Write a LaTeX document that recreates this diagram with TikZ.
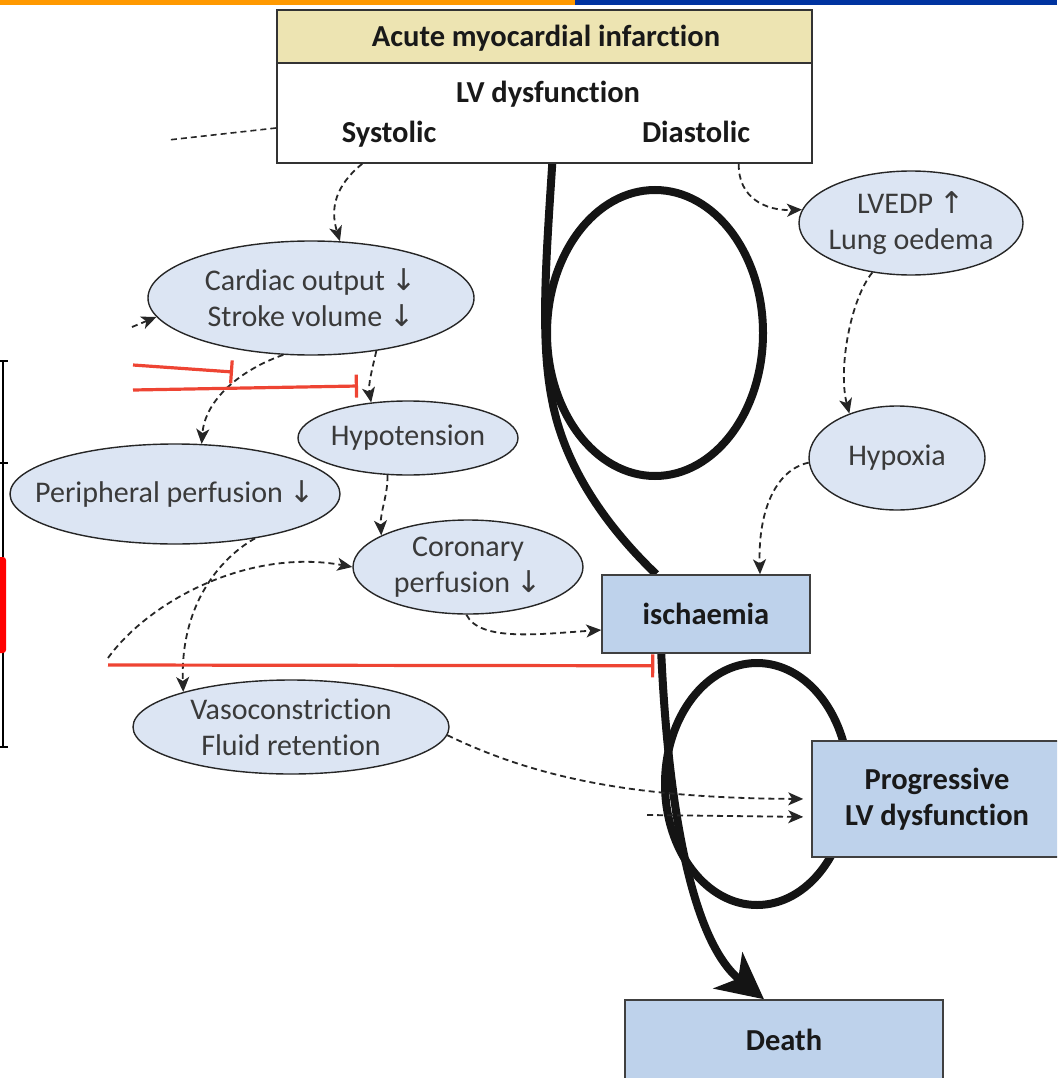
\documentclass[tikz,border=0pt]{standalone}
\usepackage{fontspec}
\setmainfont{Carlito}[Ligatures=NoCommon]
\newfontfamily\arrowglyph{DejaVu Sans}
\usetikzlibrary{shapes.geometric,arrows.meta,calc}
\pgfdeclarelayer{background}
\pgfsetlayers{background,main}

\definecolor{hdrfill}{HTML}{EDE4B2}
\definecolor{ovalfill}{HTML}{DCE5F3}
\definecolor{boxfill}{HTML}{BED2EB}
\definecolor{inhib}{HTML}{EE4433}
\definecolor{ovaltext}{HTML}{3A3A3A}
\definecolor{barorange}{HTML}{FF9900}
\definecolor{barblue}{HTML}{0033A0}

\newcommand{\arrdown}{{\arrowglyph ↓}}
\newcommand{\arrup}{{\arrowglyph ↑}}

\tikzset{
  oval/.style={ellipse, draw=black!85, line width=1.4pt, fill=ovalfill, inner sep=0pt},
  ovtext/.style={font=\fontsize{30}{36}\selectfont, text=ovaltext, align=center, inner sep=0pt},
  bluebox/.style={rectangle, draw=black!75, line width=1.5pt, fill=boxfill, inner sep=0pt,
    font=\bfseries\fontsize{30.5}{36}\selectfont, align=center, text=black!90},
  boldtxt/.style={font=\bfseries\fontsize{30.5}{36}\selectfont, text=black!90, inner sep=0pt, anchor=base},
  flow/.style={-{Stealth[length=15pt,width=13pt,inset=4pt]}, dash pattern=on 6pt off 4pt,
    line width=1.8pt, draw=black!85},
  plainflow/.style={dash pattern=on 6pt off 4pt, line width=1.6pt, draw=black!85},
  loopline/.style={line width=8pt, draw=black!92},
  inhibit/.style={-{Bar[width=23pt]}, draw=inhib, line width=3.2pt}
}

\begin{document}
\begin{tikzpicture}[x=1pt,y=-1pt]
\useasboundingbox (0,0) rectangle (1057,1078);
\clip (0,0) rectangle (1057,1078);

% title bar
\fill[barorange] (0,0) rectangle (575,5);
\fill[barblue] (575,0) rectangle (1057,5);

% left margin bracket
\draw[line width=2.5pt] (3,360) -- (3,557);
\draw[line width=2.5pt] (3,652) -- (3,747);
\draw[line width=2pt] (0,361) -- (8,361);
\draw[line width=2pt] (0,463) -- (8,463);
\draw[line width=2pt] (0,747) -- (8,747);
\fill[red, rounded corners=3pt] (-4,557) rectangle (6,653);

% top box
\node[rectangle, draw=black!80, line width=1.5pt, fill=hdrfill, minimum width=535pt, minimum height=53pt, inner sep=0pt] (ami) at (544.5,36.5) {};
\node[rectangle, draw=black!80, line width=1.5pt, fill=white, minimum width=535pt, minimum height=100pt, inner sep=0pt] (lvd) at (544.5,113) {};
\node[boldtxt] (amitxt) at (546,47) {Acute myocardial infarction};
\node[boldtxt] (lvdtxt) at (548,103) {LV dysfunction};
\node[boldtxt] (sys) at (389,143) {Systolic};
\node[boldtxt] (dia) at (696,143) {Diastolic};

% ovals
\node[oval, minimum width=326pt, minimum height=114pt,
  label={[ovtext]center:Cardiac output \arrdown\\Stroke volume \arrdown}] (card) at (311,298) {};
\node[oval, minimum width=220pt, minimum height=74pt,
  label={[ovtext]center:Hypotension}] (hypo) at (408,438) {};
\node[oval, minimum width=330pt, minimum height=100pt,
  label={[ovtext]center:Peripheral perfusion \arrdown}] (peri) at (175,494) {};
\node[oval, minimum width=230pt, minimum height=94pt,
  label={[ovtext]center:Coronary\\perfusion \arrdown}] (coro) at (468,567) {};
\node[oval, minimum width=316pt, minimum height=94pt,
  label={[ovtext]center:Vasoconstriction\\Fluid retention}] (vaso) at (291,727) {};
\node[oval, minimum width=224pt, minimum height=104pt,
  label={[ovtext]center:LVEDP \arrup\\Lung oedema}] (lvedp) at (911,223) {};
\node[oval, minimum width=176pt, minimum height=104pt,
  label={[ovtext]center:Hypoxia}] (hypox) at (897,458) {};

% outcome boxes
\node[bluebox, minimum width=208pt, minimum height=78pt] (isch) at (706,614) {ischaemia};
\node[bluebox, minimum width=250pt, minimum height=116pt] (prog) at (937,799) {Progressive\\LV dysfunction};
\node[bluebox, minimum width=318pt, minimum height=80pt] (death) at (784,1040) {Death};

% heavy vicious-circle strokes behind the boxes
\begin{pgfonlayer}{background}
\draw[loopline] ([xshift=276pt]lvd.south west) .. controls (546,260) and (540,340) .. (552,400)
  .. controls (565,470) and (610,530) .. ([xshift=55pt]isch.north west);
\draw[loopline] (655,333) ellipse [x radius=108, y radius=143];
\draw[loopline] (757,784) ellipse [x radius=92, y radius=121];
\draw[loopline, -{Stealth[length=46pt,width=46pt,inset=13pt]}] ([xshift=60pt]isch.south west)
  .. controls (668,800) and (690,940) .. ([xshift=-20pt]death.north);
\end{pgfonlayer}

% dashed causal links
\draw[flow] ([xshift=86pt]lvd.south west) .. controls (330,190) and (332,215) .. (card.63);
\draw[flow] (card.244) .. controls (240,370) and (205,400) .. (peri.62);
\draw[flow] (card.321) .. controls (372,370) and (368,385) .. (hypo.136);
\draw[flow] (hypo.241) .. controls (388,495) and (380,512) .. (coro.160);
\draw[flow] (coro.268) .. controls (480,642) and (540,634) .. ([yshift=-16pt]isch.west);
\draw[flow] (peri.331) .. controls (225,555) and (180,600) .. (vaso.162);
\coordinate (fb) at (108,658);
\draw[flow] (fb) .. controls (150,600) and (250,548) .. (coro.west);
\draw[flow, shorten >=8pt] (vaso.357) .. controls (540,780) and (640,798) .. (prog.west);
\coordinate (fb2) at (647,815);
\draw[flow, shorten >=8pt] (fb2) -- ([yshift=-18pt]prog.west);
\coordinate (lead) at (168,140);
\draw[plainflow] ([yshift=-15pt]lvd.west) -- (lead);
\coordinate (fb3) at (132,327);
\draw[flow] (fb3) -- (card.187);
\draw[flow] ([xshift=-74pt]lvd.south east) .. controls (738,198) and (766,211) .. (lvedp.173);
\draw[flow] (lvedp.232) .. controls (850,300) and (838,370) .. (hypox.137);
\draw[flow] (hypox.183) .. controls (775,470) and (758,512) .. ([xshift=54pt]isch.north);

% inhibitory links
\coordinate (r1s) at (133,365);
\coordinate (r1e) at (233,372);
\draw[inhibit] (r1s) -- (r1e);
\coordinate (r2s) at (133,390);
\coordinate (r2e) at (358,386);
\draw[inhibit] (r2s) -- (r2e);
\coordinate (r3s) at (108,665);
\draw[inhibit] (r3s) -- ([xshift=53pt,yshift=-12pt]isch.south west);
\end{tikzpicture}
\end{document}
